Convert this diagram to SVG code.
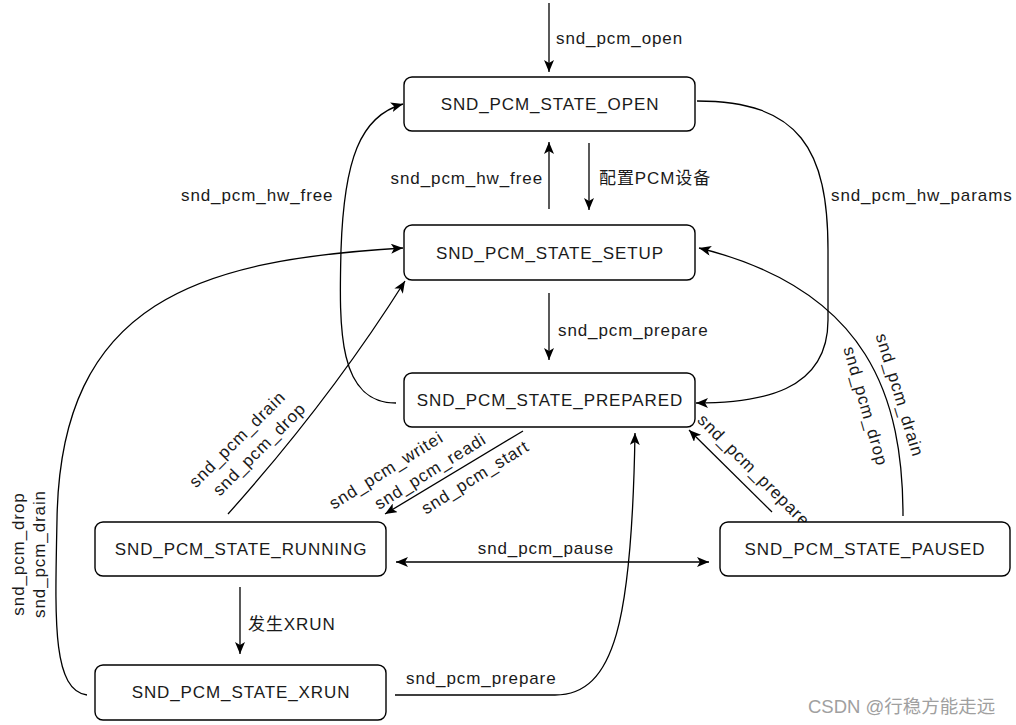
<svg xmlns="http://www.w3.org/2000/svg" width="1016" height="725" viewBox="0 0 1016 725">
<defs>
<style>
.n{fill:#fff;stroke:#000;stroke-width:1.4}
.t{font-family:"Liberation Sans",Arial,"Noto Sans CJK SC",sans-serif;font-size:17px;letter-spacing:0.9px;fill:#1a1a1a}
.c{text-anchor:middle}
.e{fill:none;stroke:#000;stroke-width:1.3}
</style>
<marker id="ah" viewBox="0 0 12 10" refX="12" refY="5" markerWidth="12" markerHeight="10" markerUnits="userSpaceOnUse" orient="auto-start-reverse">
<path d="M0,0 L12,5 L0,10 L3,5 Z" fill="#000"/>
</marker>
</defs>
<rect width="1016" height="725" fill="#fff"/>

<g id="connectors">
<path class="e" d="M549 3 L549 72" marker-end="url(#ah)"/>
<path class="e" d="M549 209 L549 142" marker-end="url(#ah)"/>
<path class="e" d="M589 143 L589 210" marker-end="url(#ah)"/>
<path class="e" d="M549 293 L549 360" marker-end="url(#ah)"/>
<path class="e" d="M396 403 C338 403 339 330 341 250 C344 160 360 116 403 104" marker-end="url(#ah)"/>
<path class="e" d="M697 101 C800 101 828 150 828 250 L828 320 C828 392 760 403 696 403" marker-end="url(#ah)"/>
<path class="e" d="M903 516 C903 400 870 290 699 248" marker-end="url(#ah)"/>
<path class="e" d="M87 695 C52 690 55 620 57 520 C60 300 200 260 403 248" marker-end="url(#ah)"/>
<path class="e" d="M228 514 Q330 400 405 281" marker-end="url(#ah)"/>
<path class="e" d="M523 431 L385 514" marker-end="url(#ah)"/>
<path class="e" d="M772 512 L689 430" marker-end="url(#ah)"/>
<path class="e" d="M396 562 L709 562" marker-start="url(#ah)" marker-end="url(#ah)"/>
<path class="e" d="M395 695 L555 695 C615 695 632 620 635 433" marker-end="url(#ah)"/>
<path class="e" d="M240 587 L240 654" marker-end="url(#ah)"/>

<text class="t" x="556" y="44">snd_pcm_open</text>
<text class="t" x="543" y="184" text-anchor="end">snd_pcm_hw_free</text>
<text class="t" x="599" y="184">配置PCM设备</text>
<text class="t" x="181" y="201">snd_pcm_hw_free</text>
<text class="t" x="831" y="201">snd_pcm_hw_params</text>
<text class="t" x="558" y="336">snd_pcm_prepare</text>
<text class="t c" x="546" y="554">snd_pcm_pause</text>
<text class="t" x="406" y="684">snd_pcm_prepare</text>
<text class="t" x="248" y="630">发生XRUN</text>
<text class="t c" transform="translate(237,439) rotate(-45)" y="6">snd_pcm_drain</text>
<text class="t c" transform="translate(259,449) rotate(-45)" y="6">snd_pcm_drop</text>
<text class="t c" transform="translate(386,470) rotate(-32)" y="6">snd_pcm_writei</text>
<text class="t c" transform="translate(430,471) rotate(-32)" y="6">snd_pcm_readi</text>
<text class="t c" transform="translate(475,477) rotate(-32)" y="6">snd_pcm_start</text>
<text class="t c" transform="translate(754,470) rotate(45)" y="6">snd_pcm_prepare</text>
<text class="t c" transform="translate(900,395) rotate(73)" y="6">snd_pcm_drain</text>
<text class="t c" transform="translate(866,406) rotate(74)" y="6">snd_pcm_drop</text>
<text class="t c" transform="translate(18,554) rotate(-90)" y="6">snd_pcm_drop</text>
<text class="t c" transform="translate(39,554) rotate(-90)" y="6">snd_pcm_drain</text>
</g>

<g id="open"><rect class="n" x="404" y="77" width="291" height="54" rx="8"/><text class="t c" x="550" y="110">SND_PCM_STATE_OPEN</text></g>
<g id="setup"><rect class="n" x="404" y="225" width="291" height="55" rx="8"/><text class="t c" x="550" y="259">SND_PCM_STATE_SETUP</text></g>
<g id="prepared"><rect class="n" x="404" y="373" width="291" height="54" rx="8"/><text class="t c" x="550" y="406">SND_PCM_STATE_PREPARED</text></g>
<g id="running"><rect class="n" x="95" y="522" width="291" height="54" rx="8"/><text class="t c" x="241" y="555">SND_PCM_STATE_RUNNING</text></g>
<g id="paused"><rect class="n" x="720" y="522" width="290" height="54" rx="8"/><text class="t c" x="865" y="555">SND_PCM_STATE_PAUSED</text></g>
<g id="xrun"><rect class="n" x="95" y="665" width="291" height="55" rx="8"/><text class="t c" x="241" y="698">SND_PCM_STATE_XRUN</text></g>

<text x="808" y="713" style="font-family:'Liberation Sans','Noto Sans CJK SC',sans-serif;font-size:18.5px;fill:#a0a0a0">CSDN @行稳方能走远</text>
</svg>
